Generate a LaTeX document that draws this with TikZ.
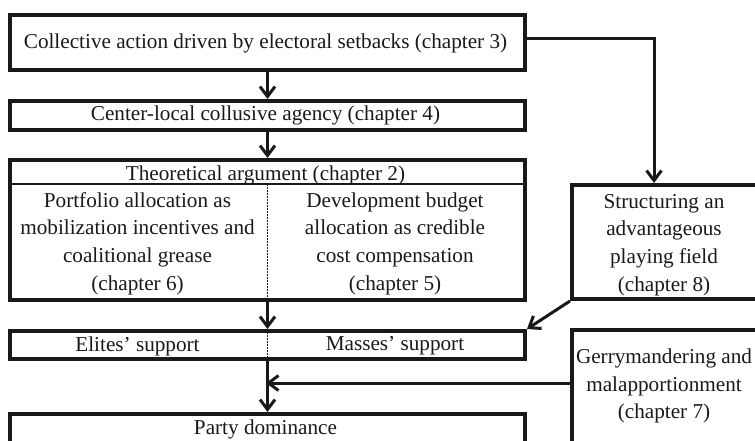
\documentclass[tikz,border=0pt]{standalone}
\usepackage{fontspec}
\setmainfont{Liberation Serif}
\usetikzlibrary{arrows.meta,calc}
\newcommand\dfont{\fontsize{21.2}{27.7}\selectfont}
\begin{document}
\begin{tikzpicture}[x=1pt,y=-1pt,
  box/.style={draw=black!90,line width=4pt,inner sep=0pt,anchor=north west},
  txt/.style={font=\dfont,align=center,inner sep=0pt,text=black!90},
  arr/.style={draw=black!90,line width=3pt,-{Straight Barb[length=10pt,width=15pt]}},
  dots/.style={draw=black!90,line width=1.5pt,dash pattern=on 1.5pt off 1.5pt},
  thin/.style={draw=black!90,line width=2pt}]
\useasboundingbox (0,0) rectangle (755,440);
\clip (0,0) rectangle (755,440);
% main column boxes
\node[box,minimum width=515pt,minimum height=55pt] (b1) at (8,13) {};
\node[txt] (t1) at (265.5,43) {Collective action driven by electoral setbacks (chapter 3)};
\node[box,minimum width=515pt,minimum height=29pt] (b2) at (8,99) {};
\node[txt] (t2) at (265.5,115.5) {Center-local collusive agency (chapter 4)};
\node[box,minimum width=515pt,minimum height=140pt] (b3) at (8,158) {};
\coordinate (h1) at ($(b3.north west)+(0,26)$);
\coordinate (h2) at ($(b3.north east)+(0,26)$);
\draw[thin] (h1) -- (h2);
\coordinate (d1) at ($(h1)!0.5!(h2)$);
\draw[dots] (d1) -- (b3.south);
\node[txt] (t3) at (265.5,175) {Theoretical argument (chapter 2)};
\node[txt] (t3l) at (137.5,243.5) {Portfolio allocation as\\mobilization incentives and\\coalitional grease\\(chapter 6)};
\node[txt] (t3r) at (395,243.5) {Development budget\\allocation as credible\\cost compensation\\(chapter 5)};
\node[box,minimum width=515pt,minimum height=28pt] (b4) at (8,329) {};
\draw[dots] (b4.north) -- (b4.south);
\node[txt] (t4l) at (137.5,346) {Elites’ support};
\node[txt] (t4r) at (395,346) {Masses’ support};
\node[box,minimum width=515pt,minimum height=36pt] (b5) at (8,412) {};
\node[txt] (t5) at (265.5,429) {Party dominance};
% right boxes
\node[box,minimum width=188pt,minimum height=114pt] (s8) at (570,183) {};
\node[txt] (t8) at (664,245) {Structuring an\\advantageous\\playing field\\(chapter 8)};
\node[box,minimum width=188pt,minimum height=150pt] (g7) at (570,328) {};
\node[txt] (t7) at (664,386) {Gerrymandering and\\malapportionment\\(chapter 7)};
% connectors
\draw[arr] (b1.south) -- (b2.north);
\draw[arr] (b2.south) -- (b3.north);
\draw[arr] (b3.south) -- (b4.north);
\draw[arr] (b4.south) -- (b5.north);
\coordinate (s8in) at ($(s8.north west)+(84,0)$);
\coordinate (b1out) at ($(b1.north east)+(0,25)$);
\draw[arr] (b1out) -| (s8in);
\draw[arr] (s8.south west) -- (b4.north east);
\coordinate (g7out) at ($(g7.north west)+(0,55)$);
\draw[arr,shorten >=-1.5pt] (g7out) -- (g7out -| b4.south);
\end{tikzpicture}
\end{document}
